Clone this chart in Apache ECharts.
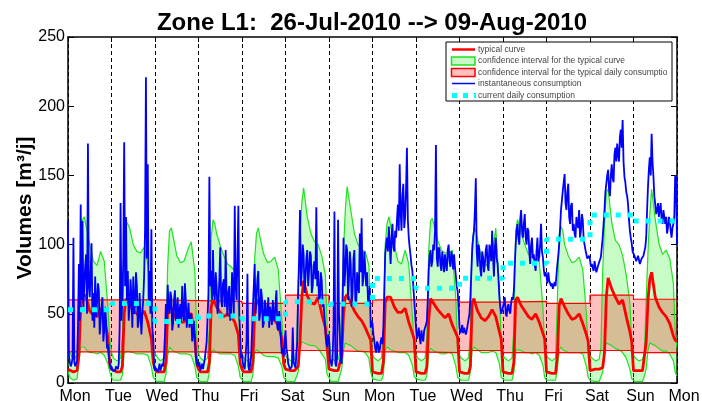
<!DOCTYPE html>
<html><head><meta charset="utf-8">
<script src="https://cdn.jsdelivr.net/npm/echarts@6/dist/echarts.min.js"></script>
<style>html,body{margin:0;padding:0;background:#fff}#c{width:702px;height:401px}</style>
</head><body><div id="c"></div><script>
// ---- data ----
const dayLabels = ['Mon','Tue','Wed','Thu','Fri','Sat','Sun','Mon','Tue','Wed','Thu','Fri','Sat','Sun','Mon'];
const yTicks = [0, 50, 100, 150, 200, 250];
// sample hours within each day for the typical curve and its interval
const typicalHours = [0,1,3,5,6,7,8,9,10,12,14,16,18,20,22,23];
const typicalCurve = [
 10,9,8,9,20,55,62,64,62,52,49,48,54,47,33,14,
 10,9,8,8,12,50,61,59,56,53,50,48,52,44,32,15,
 10,8,8,8,15,52,56,54,50,46,44,44,50,50,32,14,
 10,8,8,8,15,55,60,58,55,51,48,50,48,44,35,14,
 10,8,8,8,15,52,60,58,55,50,47,46,45,42,32,14,
 10,9,9,9,9,12,30,62,74,63,58,57,62,50,40,25,
 10,9,9,9,9,20,50,62,64,58,52,48,45,40,34,31,
 8,7,7,7,15,58,62,63,62,55,51,51,54,44,36,32,
 8,7,7,7,12,45,61,60,57,53,50,47,50,42,36,33,
 8,7,7,7,12,58,61,56,52,47,45,48,53,48,37,32,
 8,7,7,7,15,60,62,59,56,52,48,46,50,44,36,32,
 8,7,7,7,20,56,61,58,55,50,46,47,50,43,35,30,
 9,10,10,10,10,11,22,62,76,68,62,57,60,48,37,30,
 9,9,9,9,10,30,60,75,80,62,55,51,48,43,34,31,
 30];
const typicalHigh = [
 25,22,17,20,45,100,118,120,121,100,88,85,95,88,55,33,
 22,18,16,18,35,95,117,118,112,100,95,94,98,86,58,25,
 25,19,16,18,30,85,110,112,106,92,87,88,96,102,80,35,
 22,18,16,18,40,105,118,115,108,99,92,86,84,81,55,25,
 22,18,16,18,35,90,108,112,105,93,87,88,91,82,45,22,
 22,18,16,17,25,70,105,130,141,120,108,102,100,92,78,40,
 35,20,16,17,22,55,95,125,142,125,108,100,96,95,85,45,
 20,18,16,18,40,100,115,120,121,100,88,86,96,86,48,28,
 21,18,16,18,35,95,117,119,114,103,96,94,94,96,60,25,
 20,18,16,18,35,100,113,110,104,90,85,86,92,112,70,28,
 20,18,16,18,40,110,118,114,108,100,93,91,90,88,55,25,
 20,18,16,18,60,108,113,110,100,92,87,88,91,82,50,25,
 20,18,16,17,25,80,115,138,140,116,103,100,92,78,58,30,
 20,18,16,17,22,60,95,122,140,118,101,93,96,90,72,38,
 25];
const typicalLow = [
 8,4,2,3,15,26,27,26,24,22,22,21,22,20,14,8,
 4,2,2,2,6,22,23,23,22,22,21,21,21,20,12,4,
 3,1,1,1,6,20,26,25,23,22,21,21,21,20,12,4,
 3,1,1,1,8,22,24,23,22,21,21,21,21,20,12,4,
 3,1,1,1,6,22,24,23,22,20,19,19,19,18,12,4,
 3,1,1,1,2,8,25,30,31,28,27,27,25,21,17,6,
 4,1,1,1,2,10,24,29,30,27,25,23,23,22,18,8,
 3,2,2,2,6,24,26,25,24,23,22,22,22,20,13,5,
 3,2,2,2,5,22,25,24,23,22,21,21,22,21,12,4,
 3,2,2,2,8,24,26,25,24,22,22,22,23,22,14,4,
 3,2,2,2,8,24,25,24,23,22,22,21,22,20,13,4,
 2,2,2,2,10,24,26,24,23,22,22,22,22,21,12,4,
 2,1,1,1,2,8,25,29,29,27,25,24,22,18,10,3,
 2,1,1,1,2,10,24,29,29,27,25,23,23,21,16,8,
 5];
// confidence interval for the typical daily consumption (one value per day)
const dailyHigh = [60,60,59.5,59,57.5,63.5,57.5,60,60,58.5,59,57.5,63.5,60.5];
const dailyLow  = [22.5,22.5,22.5,22,22,23.5,22.5,22.5,22,23.5,22,22,23.5,22];
// current daily consumption (one value per day)
const currentDaily = [53,57.4,44.5,48.5,46.5,58.7,57,75.5,68.4,75.6,86.5,103.8,121.4,117];
// instantaneous consumption, every 30 minutes
const instantaneous = [
 117,20,15,12,14,18,105,15,12,14,16,40,86,45,129,60,117,55,70,85,93,50,173,70,62,80,101,45,65,40,77,48,58,72,67,35,45,55,62,30,38,55,45,25,28,20,14,10,
 12,9,10,8,9,12,11,10,14,40,130,45,60,90,174,70,120,60,81,45,55,75,62,40,77,50,57,80,70,40,45,65,65,35,50,60,77,110,221,90,158,60,81,50,111,40,33,12,
 9,11,12,8,10,14,9,10,14,12,20,35,57,45,71,55,50,66,62,38,43,60,67,45,50,62,40,52,57,44,70,50,45,72,60,40,48,58,40,47,50,30,35,45,33,20,19,12,
 12,15,9,11,14,10,10,18,19,30,48,65,149,70,81,60,96,65,60,80,70,50,57,75,98,60,55,72,75,55,96,60,48,66,70,45,50,80,65,50,128,70,60,90,128,50,33,18,
 21,14,12,10,9,30,79,12,9,10,19,35,55,70,86,50,62,75,81,45,50,68,62,40,43,60,57,45,48,62,40,55,50,42,60,48,45,58,67,40,38,52,45,30,21,25,19,30,
 38,25,21,14,12,10,9,12,40,15,14,11,12,30,67,90,125,70,81,100,93,65,75,90,96,70,81,95,92,65,70,85,88,75,127,70,81,60,62,80,74,55,57,48,38,30,26,35,
 33,18,15,12,19,40,124,14,12,20,118,50,33,16,14,50,105,70,81,100,96,60,75,95,86,55,65,90,96,60,57,80,70,65,108,80,119,70,76,95,96,70,80,60,57,70,40,45,
 43,35,30,25,22,30,28,22,24,30,33,28,40,65,93,100,105,95,113,100,86,105,115,98,95,110,105,118,129,110,158,125,110,135,144,112,120,140,170,118,105,98,92,85,81,70,60,50,
 40,32,35,40,33,28,38,33,30,38,38,42,45,60,81,92,96,84,88,100,96,110,172,90,84,98,96,85,81,95,88,80,93,86,81,96,100,88,84,95,91,82,93,84,77,70,66,55,
 40,36,38,42,36,40,40,35,38,42,43,50,62,80,96,105,110,125,148,95,84,100,96,82,77,95,91,80,86,96,100,85,81,100,96,88,110,92,77,98,105,90,86,75,62,55,50,52,
 52,58,62,50,48,55,57,52,50,58,62,60,67,85,100,110,115,105,100,118,125,110,105,115,122,105,100,112,110,95,86,100,105,90,93,85,81,95,105,88,91,100,115,95,91,82,77,80,
 77,72,80,74,75,70,72,68,67,73,70,78,86,92,100,112,125,132,139,145,151,130,125,138,144,120,115,128,130,110,115,108,105,120,115,112,125,105,110,122,118,104,100,96,93,90,89,92,
 89,84,86,83,81,88,84,80,81,85,86,89,91,98,105,115,125,138,144,150,154,140,135,150,158,148,145,165,170,160,173,165,160,178,183,170,190,160,149,145,138,135,129,118,110,105,101,95,
 96,92,93,88,89,92,91,86,87,90,89,92,93,98,105,125,142,155,163,150,180,160,149,135,129,122,125,130,120,126,130,118,115,125,125,115,120,108,112,120,118,110,105,112,115,120,150,148,
 100];

// ---- build series data ----
const NH = typicalHours.length;
const nDays = dailyHigh.length;
function tx(i){ return i >= NH*nDays ? nDays*24 : Math.floor(i/NH)*24 + typicalHours[i%NH]; }
const curveData = typicalCurve.map((v,i)=>[tx(i), v]);
const highData = typicalHigh.map((v,i)=>[tx(i), v]);
const lowData = typicalLow.map((v,i)=>[tx(i), v]);
const instData = instantaneous.map((v,i)=>[i*0.5, v]);
function stepData(arr){ const d = arr.map((v,i)=>[i*24, v]); d.push([arr.length*24, arr[arr.length-1]]); return d; }
const dHighData = stepData(dailyHigh), dLowData = stepData(dailyLow), curDailyData = stepData(currentDaily);
const greenPoly = highData.concat(lowData.slice().reverse());
const pinkUpper = [], pinkLower = [];
dailyHigh.forEach((v,d)=>{ pinkUpper.push([d*24, v],[d*24+24, v]); });
dailyLow.forEach((v,d)=>{ pinkLower.push([d*24, v],[d*24+24, v]); });
const pinkPoly = pinkUpper.concat(pinkLower.reverse());

function polySeries(poly, fill, z){
  return { type:'custom', coordinateSystem:'cartesian2d', data:[[0,0]], z:z, silent:true, clip:true,
    renderItem:(p, api)=>({ type:'polygon', shape:{ points: poly.map(q=>api.coord(q)) }, style:{ fill: fill } }) };
}
function lineSeries(data, color, width, z, extra){
  return Object.assign({ type:'line', data:data, showSymbol:false, symbol:'none', z:z, silent:true,
    lineStyle:{ color:color, width:width }, itemStyle:{color:color} }, extra||{});
}

const FONT = 'Liberation Sans, Arial, Helvetica, sans-serif';
const chart = echarts.init(document.getElementById('c'), null, {renderer:'canvas'});
const lx = 452, lt = 478;
const legFont = '8.5px ' + FONT;
function legText(y, t){ return { type:'text', z:101, x:lt, y:y, style:{ text:t, fill:'#444', font:legFont, textVerticalAlign:'middle', width:193, overflow:'truncate', ellipsis:'' } }; }
chart.setOption({
  animation:false,
  backgroundColor:'#fff',
  grid:{ left:68, right:25, top:37, bottom:18, containLabel:false, outerBoundsMode:'none' },
  xAxis:[
    { type:'value', position:'bottom', min:0, max:336, interval:24,
      axisLine:{ show:true, onZero:false, lineStyle:{ color:'#000', width:1.5 } },
      axisTick:{ show:true, inside:true, length:5, lineStyle:{ color:'#000', width:1 } },
      axisLabel:{ show:true, formatter:(v)=>dayLabels[Math.round(v/24)], color:'#000', fontSize:16, fontFamily:FONT, margin:6, padding:[0,0,0,14] },
      splitLine:{ show:true, lineStyle:{ color:'#000', width:1, type:[4,3] } } },
    { type:'value', position:'top', min:0, max:336, interval:24,
      axisLine:{ show:true, onZero:false, lineStyle:{ color:'#000', width:1.5 } },
      axisTick:{ show:true, inside:true, length:5, lineStyle:{ color:'#000', width:1 } },
      axisLabel:{ show:false }, splitLine:{ show:false } }
  ],
  yAxis:[
    { type:'value', position:'left', min:yTicks[0], max:yTicks[yTicks.length-1], interval:50,
      axisLine:{ show:true, onZero:false, lineStyle:{ color:'#000', width:1.5 } },
      axisTick:{ show:true, inside:true, length:6, lineStyle:{ color:'#000', width:1 } },
      axisLabel:{ show:true, color:'#000', fontSize:16, fontFamily:FONT, margin:3 },
      splitLine:{ show:false } },
    { type:'value', position:'right', min:yTicks[0], max:yTicks[yTicks.length-1], interval:50,
      axisLine:{ show:true, onZero:false, lineStyle:{ color:'#000', width:1.5 } },
      axisTick:{ show:true, inside:true, length:6, lineStyle:{ color:'#000', width:1 } },
      axisLabel:{ show:false }, splitLine:{ show:false } }
  ],
  series:[
    polySeries(greenPoly, 'rgba(0,240,0,0.22)', 1),
    polySeries(pinkPoly, 'rgba(255,0,0,0.25)', 2),
    lineSeries(highData, '#22e022', 1.2, 3),
    lineSeries(lowData, '#22e022', 1.2, 3),
    lineSeries(dHighData, '#ff0000', 1.2, 3, { step:'end' }),
    lineSeries(dLowData, '#ff0000', 1.2, 3, { step:'end' }),
    lineSeries(curveData, '#ff0000', 2.8, 4),
    lineSeries(instData, '#0000ff', 1.8, 5),
    lineSeries(curDailyData, '#00ffff', 5, 6, { step:'end', lineStyle:{ color:'#00ffff', width:5, type:[5,7], cap:'butt' } })
  ],
  graphic:[
    { type:'text', x:372, y:23, z:100, style:{ text:'Zone L1:  26-Jul-2010 --> 09-Aug-2010', fill:'#000', font:'bold 24px '+FONT, textAlign:'center', textVerticalAlign:'middle' } },
    { type:'text', x:25, y:208, rotation:Math.PI/2, z:100, style:{ text:'Volumes [m³/j]', fill:'#000', font:'bold 21px '+FONT, textAlign:'center', textVerticalAlign:'middle' } },
    { type:'rect', z:100, shape:{ x:446, y:42, width:226, height:59 }, style:{ fill:'#fff', stroke:'#000', lineWidth:1 } },
    { type:'line', z:101, shape:{ x1:lx, y1:49.5, x2:475, y2:49.5 }, style:{ stroke:'#ff0000', lineWidth:2.5 } },
    { type:'rect', z:101, shape:{ x:451.5, y:57, width:23.5, height:8 }, style:{ fill:'#c8fac8', stroke:'#22e022', lineWidth:1.5 } },
    { type:'rect', z:101, shape:{ x:451.5, y:68.5, width:23.5, height:8 }, style:{ fill:'#ffc0c0', stroke:'#ff0000', lineWidth:1.5 } },
    { type:'line', z:101, shape:{ x1:lx, y1:83.5, x2:475, y2:83.5 }, style:{ stroke:'#0000ff', lineWidth:1.5 } },
    { type:'line', z:101, shape:{ x1:lx, y1:95.5, x2:476, y2:95.5 }, style:{ stroke:'#00ffff', lineWidth:5, lineDash:[5,6] } },
    legText(49.5, 'typical curve'),
    legText(61, 'confidence interval for the typical curve'),
    legText(72.5, 'confidence interval for the typical daily consumption'),
    legText(83.5, 'instantaneous consumption'),
    legText(95.5, 'current daily consumption')
  ]
});
</script></body></html>
